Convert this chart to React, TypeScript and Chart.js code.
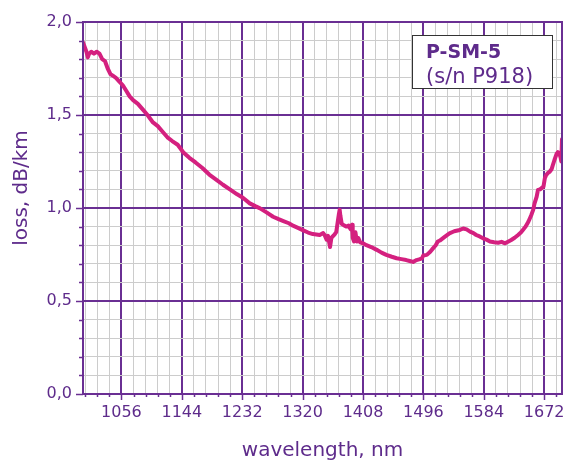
import React, { useEffect, useRef } from "react";
import { Chart, registerables } from "chart.js";

Chart.register(...registerables);

const wavelengths = [
  1000, 1003, 1005, 1007, 1009, 1012, 1016, 1020, 1024, 1028, 1032, 1036, 1040, 1044, 1048, 1053,
  1058, 1063, 1068, 1073, 1080, 1087, 1094, 1102, 1109, 1116, 1123, 1130, 1138, 1146, 1155, 1164,
  1174, 1184, 1195, 1204, 1214, 1224, 1233, 1243, 1251, 1258, 1268, 1277, 1285, 1292, 1300, 1306,
  1314, 1321, 1328, 1335, 1340, 1345, 1350, 1352, 1355, 1357, 1360, 1362, 1366, 1369, 1371, 1373,
  1374, 1375, 1377, 1381, 1384, 1387, 1390, 1392, 1393, 1395, 1397, 1399, 1401, 1404, 1408, 1413,
  1420, 1428, 1435, 1442, 1450, 1457, 1464, 1471, 1476, 1481, 1486, 1491, 1494, 1496, 1501, 1506,
  1510, 1514, 1517, 1520, 1527, 1534, 1541, 1549, 1554, 1559, 1564, 1569, 1573, 1578, 1583, 1588,
  1593, 1599, 1605, 1610, 1615, 1620, 1624, 1629, 1634, 1638, 1641, 1645, 1649, 1653, 1656, 1658,
  1661, 1663, 1666, 1671, 1673, 1675, 1678, 1680, 1683, 1685, 1687, 1690, 1692, 1694, 1696, 1697,
  1698,
];

const loss = [
  1.89, 1.86, 1.84, 1.81, 1.83, 1.84, 1.83, 1.84, 1.83, 1.8, 1.79, 1.75, 1.72, 1.71, 1.7, 1.68,
  1.66, 1.63, 1.6, 1.58, 1.56, 1.53, 1.5, 1.46, 1.44, 1.41, 1.38, 1.36, 1.34, 1.3, 1.27, 1.245,
  1.215, 1.18, 1.15, 1.125, 1.1, 1.075, 1.055, 1.025, 1.01, 0.998, 0.975, 0.953, 0.94, 0.93, 0.918, 0.905,
  0.892, 0.88, 0.868, 0.86, 0.858, 0.855, 0.865, 0.855, 0.83, 0.85, 0.79, 0.84, 0.855, 0.87, 0.92, 0.97,
  0.99, 0.96, 0.915, 0.905, 0.9, 0.905, 0.885, 0.91, 0.84, 0.82, 0.87, 0.82, 0.84, 0.815, 0.81, 0.8,
  0.79, 0.775, 0.76, 0.748, 0.738, 0.73, 0.725, 0.72, 0.715, 0.71, 0.72, 0.725, 0.73, 0.745, 0.748, 0.765,
  0.783, 0.8, 0.82, 0.825, 0.845, 0.864, 0.875, 0.882, 0.89, 0.885, 0.873, 0.865, 0.855, 0.847, 0.837, 0.83,
  0.82, 0.816, 0.813, 0.818, 0.81, 0.82, 0.828, 0.84, 0.855, 0.868, 0.882, 0.9, 0.926, 0.96, 0.99, 1.025,
  1.06, 1.097, 1.1, 1.115, 1.16, 1.177, 1.19, 1.195, 1.21, 1.235, 1.258, 1.29, 1.3, 1.295, 1.27, 1.25,
  1.37,
];

const xMajorTicks = [1056, 1144, 1232, 1320, 1408, 1496, 1584, 1672];
const yTickLabels = ["0,0", "0,5", "1,0", "1,5", "2,0"];
const legendTitle = "P-SM-5";
const legendSubtitle = "(s/n P918)";
const xTitle = "wavelength, nm";
const yTitle = "loss, dB/km";

const PURPLE = "#6a2f93";
const TEXT = "#5e2b8b";
const GREY = "#cccccc";
const CURVE = "#d4207f";
const FONT = "'DejaVu Sans'";

const X_MIN = 1000;
const X_MAX = 1698;
const X_MINOR = 17.6;

const isXMajor = (v: number) => xMajorTicks.some((m) => Math.abs(m - v) < 1e-6);
const isYMajor = (v: number) => Math.round(v * 10) % 5 === 0;

export default function App() {
  const ref = useRef<HTMLCanvasElement | null>(null);

  useEffect(() => {
    if (!ref.current) return;
    const points = wavelengths.map((w, i) => ({ x: w, y: loss[i] }));

    const decor = {
      id: "decor",
      afterDatasetsDraw(chart: any) {
        const ctx = chart.ctx;
        const a = chart.chartArea;
        ctx.save();
        ctx.strokeStyle = PURPLE;
        ctx.lineWidth = 2;
        ctx.strokeRect(a.left, a.top, a.right - a.left, a.bottom - a.top);
        const bx = 412.5, by = 35.5, bw = 140, bh = 53;
        ctx.fillStyle = "#ffffff";
        ctx.fillRect(bx, by, bw, bh);
        ctx.strokeStyle = "#333333";
        ctx.lineWidth = 1;
        ctx.strokeRect(bx, by, bw, bh);
        ctx.fillStyle = TEXT;
        ctx.textAlign = "left";
        ctx.textBaseline = "alphabetic";
        ctx.font = `bold 19px ${FONT}`;
        ctx.fillText(legendTitle, 426, 58);
        ctx.font = `21px ${FONT}`;
        ctx.fillText(legendSubtitle, 426, 83);
        ctx.restore();
      },
      afterDraw(chart: any) {
        const ctx = chart.ctx;
        const a = chart.chartArea;
        const xs = chart.scales.x;
        const ys = chart.scales.y;
        ctx.save();
        ctx.strokeStyle = PURPLE;
        ctx.lineWidth = 1.5;
        for (const t of xs.ticks) {
          const px = Math.round(xs.getPixelForValue(t.value)) + 0.5;
          const len = isXMajor(t.value) ? 6 : 3;
          ctx.beginPath();
          ctx.moveTo(px, a.bottom);
          ctx.lineTo(px, a.bottom + len);
          ctx.stroke();
        }
        for (const t of ys.ticks) {
          const py = Math.round(ys.getPixelForValue(t.value)) + 0.5;
          const len = isYMajor(t.value) ? 7 : 4;
          ctx.beginPath();
          ctx.moveTo(a.left, py);
          ctx.lineTo(a.left - len, py);
          ctx.stroke();
        }
        ctx.fillStyle = TEXT;
        ctx.font = `20px ${FONT}`;
        ctx.textAlign = "center";
        ctx.textBaseline = "alphabetic";
        ctx.fillText(xTitle, (a.left + a.right) / 2, 456);
        ctx.translate(27, 188);
        ctx.rotate(-Math.PI / 2);
        ctx.fillText(yTitle, 0, 0);
        ctx.restore();
      },
    };

    const chart = new Chart(ref.current, {
      type: "line",
      data: {
        datasets: [
          {
            data: points,
            borderColor: CURVE,
            borderWidth: 4,
            borderJoinStyle: "round",
            borderCapStyle: "round",
            pointRadius: 0,
            tension: 0,
            fill: false,
          },
        ],
      },
      options: {
        animation: false,
        responsive: false,
        layout: { padding: { top: 22, right: 4, left: 0, bottom: 0 } },
        plugins: { legend: { display: false }, tooltip: { enabled: false } },
        scales: {
          x: {
            type: "linear",
            min: X_MIN,
            max: X_MAX,
            afterBuildTicks(scale: any) {
              const ticks: any[] = [];
              for (let k = 0; ; k++) {
                const v = Math.round((1003.2 + X_MINOR * k) * 10) / 10;
                if (v > X_MAX) break;
                ticks.push({ value: v });
              }
              scale.ticks = ticks;
            },
            afterFit(scale: any) {
              scale.height = 67;
            },
            grid: {
              drawTicks: false,
              color: (c: any) => (c.tick && isXMajor(c.tick.value) ? PURPLE : GREY),
              lineWidth: (c: any) => (c.tick && isXMajor(c.tick.value) ? 2 : 1),
            },
            border: { display: true, color: PURPLE, width: 2 },
            ticks: {
              autoSkip: false,
              maxRotation: 0,
              padding: 9,
              color: TEXT,
              font: { family: FONT, size: 16 },
              callback: (v: any) => {
                const n = Number(v);
                const idx = xMajorTicks.findIndex((m) => Math.abs(m - n) < 1e-6);
                return idx >= 0 ? String(xMajorTicks[idx]) : "";
              },
            },
          },
          y: {
            type: "linear",
            min: 0,
            max: 2,
            afterFit(scale: any) {
              scale.width = 83;
            },
            grid: {
              drawTicks: false,
              color: (c: any) => (c.tick && isYMajor(c.tick.value) ? PURPLE : GREY),
              lineWidth: (c: any) => (c.tick && isYMajor(c.tick.value) ? 2 : 1),
            },
            border: { display: true, color: PURPLE, width: 2 },
            ticks: {
              stepSize: 0.1,
              autoSkip: false,
              padding: 11,
              color: TEXT,
              font: { family: FONT, size: 16 },
              callback: (v: any) => {
                const n = Number(v);
                const r = Math.round(n * 10);
                return r % 5 === 0 ? yTickLabels[r / 5] : "";
              },
            },
          },
        },
      },
      plugins: [decor],
    } as any);

    return () => chart.destroy();
  }, []);

  return (
    <div style={{ position: "fixed", left: 0, top: 0, width: 566, height: 461, background: "#fff" }}>
      <canvas ref={ref} width={566} height={461} style={{ display: "block" }} />
    </div>
  );
}
